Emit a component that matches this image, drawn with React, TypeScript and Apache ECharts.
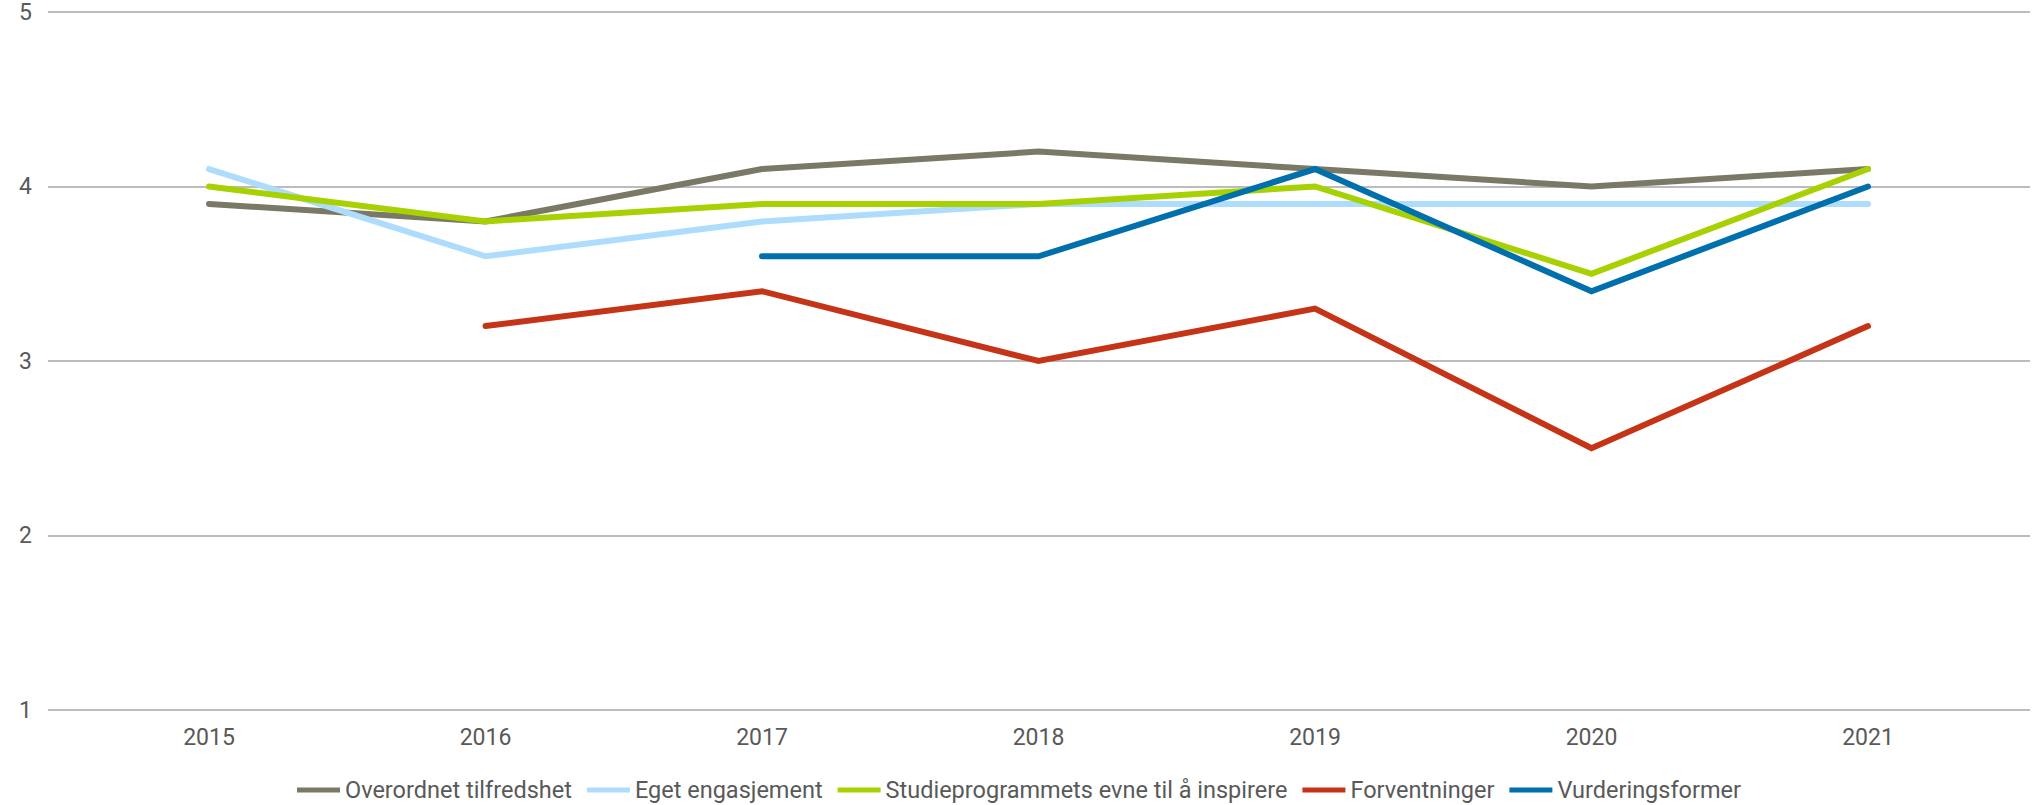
import React, { useEffect, useRef } from "react";
import * as echarts from "echarts";

const years = ["2015", "2016", "2017", "2018", "2019", "2020", "2021"];
const overordnet = [3.9, 3.8, 4.1, 4.2, 4.1, 4.0, 4.1];
const egetEngasjement = [4.1, 3.6, 3.8, 3.9, 3.9, 3.9, 3.9];
const studieprogrammets = [4.0, 3.8, 3.9, 3.9, 4.0, 3.5, 4.1];
const forventninger = [null, 3.2, 3.4, 3.0, 3.3, 2.5, 3.2];
const vurderingsformer = [null, null, 3.6, 3.6, 4.1, 3.4, 4.0];

const seriesDefs = [
  { name: "Overordnet tilfredshet", data: overordnet, color: "#7a7966" },
  { name: "Eget engasjement", data: egetEngasjement, color: "#addcfd" },
  { name: "Studieprogrammets evne til å inspirere", data: studieprogrammets, color: "#a7d100" },
  { name: "Forventninger", data: forventninger, color: "#c63418" },
  { name: "Vurderingsformer", data: vurderingsformer, color: "#0070ad" },
];

const FONT = "Roboto";
const TEXT = "#595959";

export default function App() {
  const ref = useRef<HTMLDivElement>(null);
  useEffect(() => {
    if (!ref.current) return;
    const chart = echarts.init(ref.current, undefined, { renderer: "svg" });
    chart.setOption({
      animation: false,
      backgroundColor: "#ffffff",
      textStyle: { fontFamily: FONT },
      grid: [
        { left: 48, right: 8, top: 12, bottom: 95 },
        { left: 209, right: 170, top: 12, bottom: 95 },
      ],
      legend: {
        bottom: -2,
        left: "center",
        icon: "rect",
        itemWidth: 43,
        itemHeight: 5,
        itemGap: 15,
        textStyle: { fontFamily: FONT, fontSize: 23.5, color: TEXT },
        data: seriesDefs.map((s) => s.name),
      },
      xAxis: [
        { gridIndex: 0, type: "category", data: years, show: false },
        {
          gridIndex: 1,
          type: "category",
          data: years,
          boundaryGap: false,
          axisLine: { show: false },
          axisTick: { show: false },
          splitLine: { show: false },
          axisLabel: { fontFamily: FONT, fontSize: 23, color: TEXT, margin: 16 },
        },
      ],
      yAxis: [
        {
          gridIndex: 0,
          type: "value",
          min: 1,
          max: 5,
          interval: 1,
          axisLine: { show: false },
          axisTick: { show: false },
          axisLabel: { fontFamily: FONT, fontSize: 23, color: TEXT, margin: 16 },
          splitLine: { show: true, lineStyle: { color: "#a6a6a6", width: 1.5 } },
        },
        { gridIndex: 1, type: "value", min: 1, max: 5, interval: 1, show: false, splitLine: { show: false } },
      ],
      series: seriesDefs.map((s) => ({
        name: s.name,
        type: "line",
        xAxisIndex: 1,
        yAxisIndex: 1,
        data: s.data,
        showSymbol: false,
        symbol: "none",
        color: s.color,
        lineStyle: { color: s.color, width: 6, cap: "round", join: "miter" },
      })),
    });
    return () => chart.dispose();
  }, []);
  return (
    <div
      ref={ref}
      style={{ position: "fixed", left: 0, top: 0, width: 2038, height: 805 }}
    />
  );
}
